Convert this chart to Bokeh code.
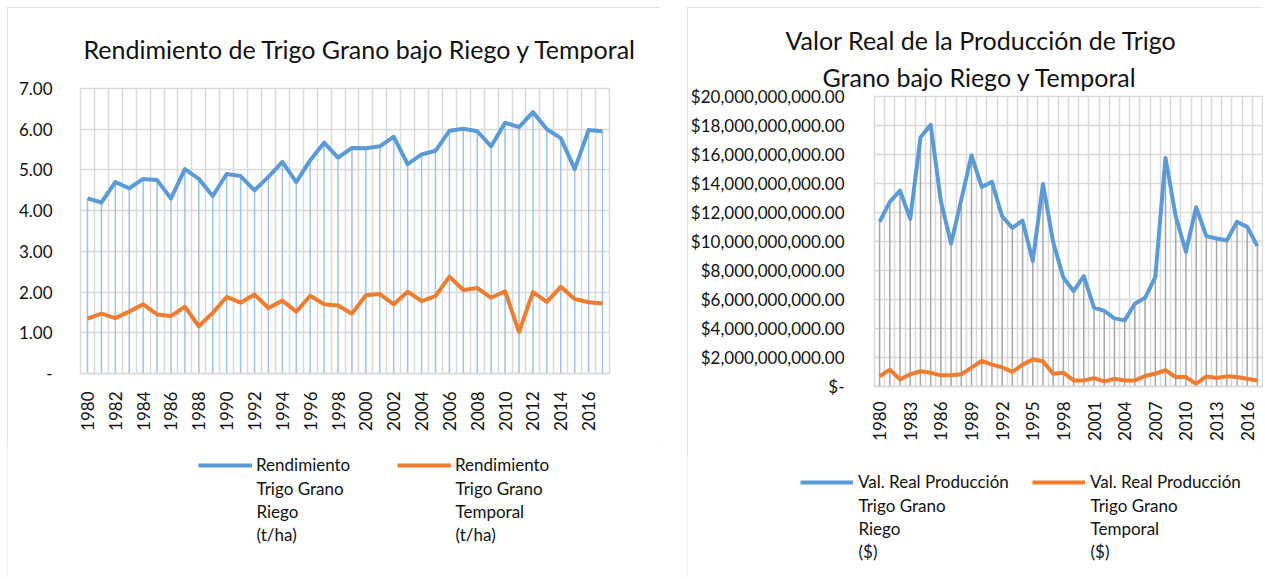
import math
from bokeh.plotting import figure
from bokeh.models import (Range1d, FixedTicker, NumeralTickFormatter, Legend,
                          LegendItem, ColumnDataSource, Title, Spacer)
from bokeh.core.properties import value
from bokeh.layouts import row, column
from bokeh.embed import file_html
from bokeh.resources import INLINE

# ---------------- data ----------------
years = list(range(1980, 2018))

# Rendimiento (t/ha)
rend_riego = [4.30, 4.20, 4.70, 4.55, 4.78, 4.75, 4.30, 5.02, 4.78, 4.36,
              4.90, 4.85, 4.50, 4.83, 5.20, 4.70, 5.24, 5.67, 5.30, 5.54,
              5.53, 5.58, 5.82, 5.14, 5.38, 5.47, 5.96, 6.01, 5.95, 5.58,
              6.16, 6.05, 6.42, 6.00, 5.78, 5.02, 5.98, 5.95]
rend_temporal = [1.35, 1.47, 1.36, 1.52, 1.70, 1.45, 1.41, 1.64, 1.16, 1.49,
                 1.88, 1.74, 1.94, 1.61, 1.79, 1.52, 1.91, 1.70, 1.67, 1.47,
                 1.92, 1.95, 1.70, 2.01, 1.78, 1.90, 2.38, 2.05, 2.10, 1.86,
                 2.02, 1.02, 2.00, 1.76, 2.13, 1.83, 1.75, 1.72]

# Valor real de la producción (miles de millones de $)
val_riego_bn = [11.35, 12.73, 13.51, 11.56, 17.18, 18.05, 12.78, 9.86, 12.89, 15.94,
                13.76, 14.11, 11.74, 10.94, 11.44, 8.65, 13.97, 9.95, 7.50, 6.58,
                7.61, 5.44, 5.21, 4.70, 4.56, 5.71, 6.12, 7.55, 15.76, 11.74,
                9.29, 12.36, 10.37, 10.21, 10.07, 11.35, 11.01, 9.68]
val_temporal_bn = [0.70, 1.16, 0.49, 0.84, 1.05, 0.95, 0.77, 0.77, 0.84, 1.30,
                   1.77, 1.51, 1.33, 1.00, 1.51, 1.86, 1.74, 0.88, 0.95, 0.42,
                   0.42, 0.58, 0.35, 0.53, 0.42, 0.42, 0.72, 0.88, 1.12, 0.65,
                   0.65, 0.19, 0.70, 0.58, 0.70, 0.65, 0.53, 0.42]
val_riego = [v * 1e9 for v in val_riego_bn]
val_temporal = [v * 1e9 for v in val_temporal_bn]

left_labels_years = list(range(1980, 2017, 2))
right_labels_years = list(range(1980, 2017, 3))
left_yticks = [0, 1, 2, 3, 4, 5, 6, 7]
right_yticks = [i * 2e9 for i in range(11)]

left_title = ["Rendimiento de Trigo Grano bajo Riego y Temporal"]
right_title = ["Valor Real de la Producción de Trigo", "Grano bajo Riego y Temporal"]
left_legend = [["Rendimiento", "Trigo Grano", "Riego", "(t/ha)"],
               ["Rendimiento", "Trigo Grano", "Temporal", "(t/ha)"]]
right_legend = [["Val. Real Producción", "Trigo Grano", "Riego", "($)"],
                ["Val. Real Producción", "Trigo Grano", "Temporal", "($)"]]

# ---------------- style ----------------
FONT = "Lato"
BLUE = "#5B9BD5"
ORANGE = "#ED7D31"
GRID = "#D9D9D9"
TXT = "#111111"
LW = 4


def chart(width, height, ymax, yticks, xticks, bl, br, bt, bb, titles,
          title_standoffs, title_offsets, drop_color, riego, temporal, fmt,
          zero_label, ylab_standoff, xlab_standoff):
    src = ColumnDataSource(dict(x=years, riego=riego, temporal=temporal,
                                base=[0] * len(years)))
    p = figure(width=width, height=height, output_backend="svg",
               toolbar_location=None,
               x_range=Range1d(years[0] - 0.5, years[-1] + 0.5),
               y_range=Range1d(0, ymax),
               min_border_left=bl, min_border_right=br,
               min_border_top=bt, min_border_bottom=bb,
               outline_line_color=GRID, outline_line_width=1.5)
    p.frame_align = False
    # titles: first added = nearest to the frame
    for t, so, off in zip(reversed(titles), reversed(title_standoffs),
                          reversed(title_offsets)):
        p.add_layout(Title(text=t, align="left", text_font=FONT,
                           text_font_style="normal", text_font_size="25px",
                           text_color=TXT, offset=off, standoff=so),
                     "above")

    p.ygrid.ticker = FixedTicker(ticks=yticks)
    p.ygrid.grid_line_color = GRID
    p.ygrid.grid_line_width = 1.5
    p.xgrid.ticker = FixedTicker(ticks=[y - 0.5 for y in years] + [years[-1] + 0.5])
    p.xgrid.grid_line_color = GRID
    p.xgrid.grid_line_width = 1.5

    p.yaxis.ticker = FixedTicker(ticks=yticks)
    p.yaxis.formatter = NumeralTickFormatter(format=fmt)
    p.yaxis.major_label_overrides = {0: zero_label}
    p.yaxis.axis_line_color = None
    p.yaxis.major_tick_line_color = None
    p.yaxis.minor_tick_line_color = None
    p.yaxis.major_label_standoff = ylab_standoff
    p.xaxis.ticker = FixedTicker(ticks=xticks)
    p.xaxis.major_label_orientation = math.pi / 2
    p.xaxis.axis_line_color = GRID
    p.xaxis.axis_line_width = 1.5
    p.xaxis.major_tick_line_color = None
    p.xaxis.minor_tick_line_color = None
    p.xaxis.major_label_standoff = xlab_standoff
    for ax in (p.xaxis, p.yaxis):
        ax.major_label_text_font = FONT
        ax.major_label_text_font_size = "17px"
        ax.major_label_text_color = TXT

    p.segment(x0="x", y0="base", x1="x", y1="riego", source=src,
              line_color=drop_color, line_width=1.5)
    p.line("x", "riego", source=src, line_color=BLUE, line_width=LW,
           line_join="round")
    p.line("x", "temporal", source=src, line_color=ORANGE, line_width=LW,
           line_join="round")
    return p


def legend_panel(width, height, riego, temporal, labels, swatch_x, row_y,
                 glyph_w, standoff, line_gap):
    lf = figure(width=width, height=height, output_backend="svg",
                toolbar_location=None, x_range=Range1d(0, width),
                y_range=Range1d(0, height), min_border=0,
                x_axis_type=None, y_axis_type=None, outline_line_color=None)
    lf.frame_align = False
    # the same series (they fall outside this panel's view; used as legend keys)
    rs = [lf.line(years, riego, line_color=BLUE, line_width=LW),
          lf.line(years, temporal, line_color=ORANGE, line_width=LW)]
    xs, ys, ts = [], [], []
    for r, lab, sx in zip(rs, labels, swatch_x):
        lg = Legend(items=[LegendItem(label=lab[0], renderers=[r])],
                    location=(sx, row_y - 10), orientation="horizontal",
                    glyph_width=glyph_w, glyph_height=20, label_height=20,
                    label_standoff=standoff, padding=0, margin=0,
                    label_text_font=FONT, label_text_font_size="17px",
                    label_text_color=TXT, border_line_color=None,
                    background_fill_alpha=0)
        lf.add_layout(lg, "center")
        for k, extra in enumerate(lab[1:]):
            xs.append(sx + glyph_w + standoff)
            ys.append(row_y - (k + 1) * line_gap)
            ts.append(extra)
    lf.text(x=xs, y=ys, text=ts, text_font=value(FONT),
            text_font_size=value("17px"), text_color=TXT,
            text_baseline="middle", text_align="left")
    return lf


p1 = chart(653, 435, 7, left_yticks, left_labels_years, 73, 51, 81, 69,
           left_title, [49], [3], "#9DC3E6", rend_riego, rend_temporal,
           "0.00", "-", 22, 12)
l1 = legend_panel(653, 135, rend_riego, rend_temporal, left_legend,
                  [191, 390], 112, 54, 4, 23)
p2 = chart(576, 448, 20e9, right_yticks, right_labels_years, 180, 1, 89, 69,
           right_title, [0, 10], [-89, -52], "#A6A6A6", val_riego, val_temporal,
           "$0,0.00", "$-", 24, 9)
l2 = legend_panel(576, 122, val_riego, val_temporal, right_legend,
                  [113, 345], 95, 53, 5, 23)

frame_css = {"outline": "1px solid #D9D9D9", "outline-offset": "-1px"}
layout = column(Spacer(height=7),
                row(Spacer(width=7),
                    column(p1, l1, styles=frame_css),
                    Spacer(width=27),
                    column(p2, l2, styles=frame_css)))
open("out.html", "w").write(file_html(layout, INLINE))
